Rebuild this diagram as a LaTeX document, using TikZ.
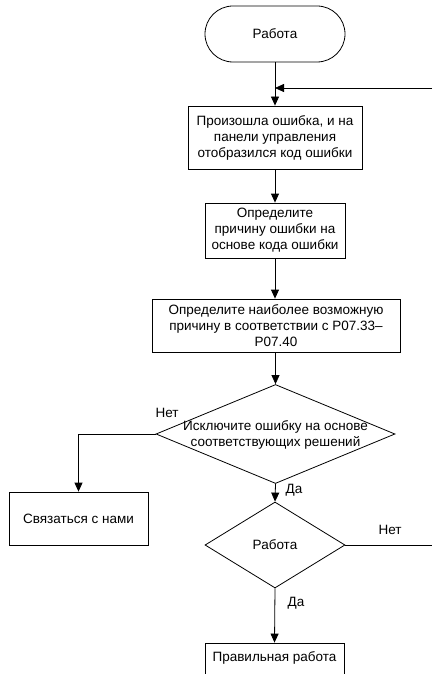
\documentclass[tikz,border=0pt]{standalone}
\usepackage{fontspec}
\setmainfont{Liberation Sans}
\usetikzlibrary{arrows.meta,shapes.geometric}
\begin{document}
\begin{tikzpicture}[x=1pt,y=-1pt,
  every node/.style={font=\fontsize{13.5}{16}\selectfont},
  box/.style={draw,thick,line width=0.8pt,inner sep=0pt,align=center},
  dia/.style={draw,line width=0.8pt,diamond,inner sep=0pt,shape aspect=1},
  arr/.style={line width=0.8pt,-{Triangle[width=8pt,length=9pt]}},
  ln/.style={line width=0.8pt},
  lbl/.style={inner sep=0pt}]
\clip (0,0) rectangle (432,674);
\fill[white] (0,0) rectangle (432,674);
% nodes
\node[box,rounded corners=28pt,minimum width=140pt,minimum height=56pt] (term) at (275,34) {Работа};
\node[box,minimum width=174pt,minimum height=63pt] (b1) at (275,137.5) {Произошла ошибка, и на\\панели управления\\отобразился код ошибки};
\node[box,minimum width=140pt,minimum height=55pt] (b2) at (275,230.5) {Определите\\причину ошибки на\\основе кода ошибки};
\node[box,minimum width=248pt,minimum height=53pt] (b3) at (276,325.5) {Определите наиболее возможную\\причину в соответствии с P07.33–\\P07.40};
\node[dia,minimum width=239pt,minimum height=99pt] (d1) at (275.5,434) {};
\node[lbl,align=center] (d1t) at (275.5,434.5) {Исключите ошибку на основе\\соответствующих решений};
\node[box,minimum width=139pt,minimum height=53pt] (contact) at (78.5,518.5) {Связаться с нами};
\node[dia,minimum width=140pt,minimum height=86pt] (d2) at (275,545) {};
\node[lbl] (d2t) at (275,545) {Работа};
\node[draw,line width=0.8pt,inner sep=0pt,minimum width=139pt,minimum height=50pt] (fin) at (274.5,668) {};
\node[lbl] (fint) at (274.5,658) {Правильная работа};
% coordinates at picture edge
\coordinate (rin) at (432,88);
\coordinate (rout) at (432,545);
% labels
\node[lbl] (n1) at (167,413) {Нет};
\node[lbl] (y1) at (294,490) {Да};
\node[lbl] (n2) at (390,530) {Нет};
\node[lbl] (y2) at (296,603) {Да};
% connectors
\draw[arr] (term.south) -- (b1.north);
\draw[arr] (rin) -- (term.south |- rin);
\draw[arr] (b1.south) -- (b2.north);
\draw[arr] (b2.south) -- (b3.north -| b2.south);
\draw[arr] (b3.south -| d1.north) -- (d1.north);
\draw[arr] (d1.west) -| (contact.north);
\draw[arr] (d1.south) -- (d2.north);
\draw[ln] (d2.east) -- (rout);
\draw[arr] (d2.south) -- (fin.north);
\end{tikzpicture}
\end{document}
